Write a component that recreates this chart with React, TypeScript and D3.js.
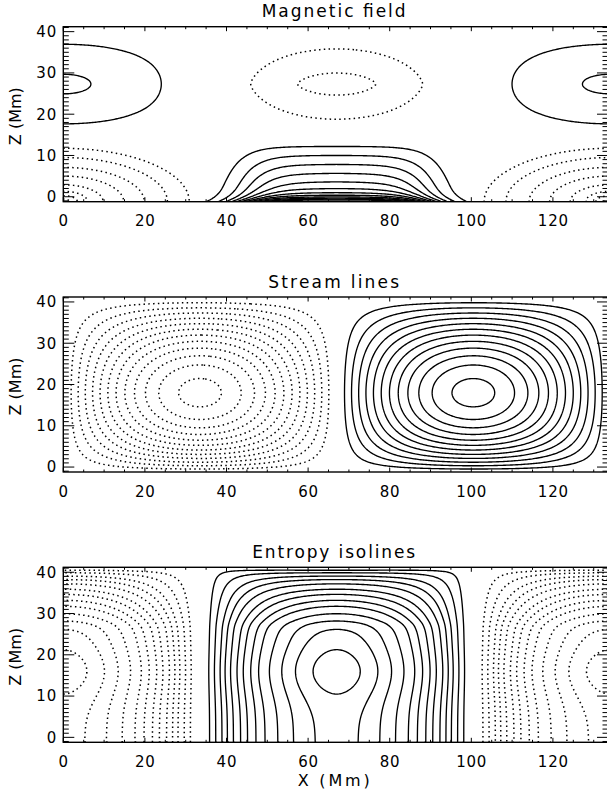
import React, { useMemo } from "react";
import * as d3 from "d3";

// ---------- layout constants ----------
const W = 607;
const H = 795;
const X0 = 63.3;
const X1 = 608;
const PANEL_TOPS = [26.7, 297.0, 567.3];
const PANEL_H = 175;

// ---------- axis data ----------
const X_MIN = 0;
const X_MAX = 133.5;
const Z_MIN = -1.2;
const Z_MAX = 41.2;
const PERIOD = 134;
const xTicksMajor = [0, 20, 40, 60, 80, 100, 120];
const zTicksMajor = [0, 10, 20, 30, 40];
const panelTitles = ["Magnetic field", "Stream lines", "Entropy isolines"];
const titleWidths = [144, 131, 163];
const xAxisTitle = "X (Mm)";
const zAxisTitle = "Z (Mm)";

// ---------- contour levels ----------
const magUpperSolid = [0.43, 0.95];
const magUpperDotted = [-0.55, -0.9];
const magDomeLevels = [1, 2, 3, 4, 5, 6, 7, 8, 9, 10, 11, 12];
const magCornerLevels = [0.02, 0.19, 0.37, 0.53, 0.69, 0.81, 0.89, 0.95];
const streamLevels = [0.09, 0.17, 0.25, 0.33, 0.41, 0.49, 0.57, 0.65, 0.73, 0.81, 0.89, 0.97];
const entropyLevels = [0.11, 0.18, 0.25, 0.31, 0.375, 0.45, 0.52, 0.6, 0.68, 0.78, 0.88, 0.97, 1.05];

// ---------- model fields ----------
type Field = (x: number, z: number) => number;

const magUpper: Field = (x, z) => {
  const c = Math.cos((2 * Math.PI * x) / PERIOD);
  const dz = Math.abs(z - 27.3);
  const g = c >= 0 ? Math.exp(-((dz / 10.5) ** 2)) : Math.exp(-Math.pow(dz / 12, 1.5));
  return c * g;
};

const magDome: Field = (x, z) => {
  const d = Math.abs(x - PERIOD / 2);
  const w = z - Z_MIN;
  const s = 1 / (1 + Math.exp((d - 22) / 3.8));
  const q = 7.16 - 0.46 * w + 7.6 * Math.exp(-w);
  return s * q;
};

const magCorner: Field = (x, z) => {
  const e = Math.min(x, PERIOD - x);
  const w = z - Z_MIN;
  return 1 - Math.hypot(e / 31.5, w / 13.2);
};

const streamFn: Field = (x, z) => {
  const g = Math.pow(Math.max(0, (z - Z_MIN) / (Z_MAX - Z_MIN)), 0.8735);
  return -Math.sin((2 * Math.PI * x) / PERIOD) * Math.sin(Math.PI * g);
};

const entropyFn: Field = (x, z) => {
  const th = (2 * Math.PI * (x - PERIOD / 2)) / PERIOD;
  const c = Math.cos(th);
  const G = Math.exp(-(((z - 16) / 7.2) ** 2));
  const a = Math.abs(c) * (1 + 0.09 * G);
  const t = Math.max(0, Z_MAX - z);
  const zr = 0.055 * t + 0.16 * (1 - Math.exp(-t / 1.2));
  const Z = zr < 0.9 ? zr : 1 - 0.1 * Math.exp(-(zr - 0.9) / 0.1);
  const m = c >= 0 ? 0.5 : 0.25;
  const v = a * Math.pow(Z, Math.pow(Math.min(a, 1), m));
  return c >= 0 ? v : -v;
};

// ---------- contour helpers ----------
const NX = 400;
const NZ = 140;

function sampleField(f: Field): number[] {
  const vals = new Array(NX * NZ);
  const dx = (X_MAX - X_MIN) / NX;
  const dz = (Z_MAX - Z_MIN) / NZ;
  for (let j = 0; j < NZ; j++) {
    const z = Z_MIN + (j + 0.5) * dz;
    for (let i = 0; i < NX; i++) {
      const x = X_MIN + (i + 0.5) * dx;
      vals[j * NX + i] = f(x, z);
    }
  }
  return vals;
}

function ringToPolylines(ring: number[][]): number[][][] {
  const eps = 1e-6;
  const side = (p: number[]) =>
    (p[0] <= eps ? 1 : 0) |
    (p[0] >= NX - eps ? 2 : 0) |
    (p[1] <= eps ? 4 : 0) |
    (p[1] >= NZ - eps ? 8 : 0);
  const n = ring.length - 1;
  const isB = (k: number) => (side(ring[k]) & side(ring[k + 1])) !== 0;
  let start = -1;
  for (let k = 0; k < n; k++) {
    if (isB(k)) {
      start = k;
      break;
    }
  }
  if (start < 0) return [ring];
  const out: number[][][] = [];
  let cur: number[][] = [];
  for (let s = 1; s <= n; s++) {
    const k = (start + s) % n;
    if (isB(k)) {
      if (cur.length > 1) out.push(cur);
      cur = [];
    } else {
      if (cur.length === 0) cur.push(ring[k]);
      cur.push(ring[k + 1]);
    }
  }
  if (cur.length > 1) out.push(cur);
  return out;
}

type LineSet = { d: string; dotted: boolean }[];

function contourPaths(
  f: Field,
  levels: number[],
  dotted: boolean,
  xs: d3.ScaleLinear<number, number>,
  ys: d3.ScaleLinear<number, number>
): LineSet {
  const vals = sampleField(f);
  const gen = d3.contours().size([NX, NZ]).smooth(true).thresholds(levels);
  const polys = gen(vals);
  const gxToX = (gx: number) => X_MIN + (gx * (X_MAX - X_MIN)) / NX;
  const gyToZ = (gy: number) => Z_MIN + (gy * (Z_MAX - Z_MIN)) / NZ;
  const line = d3
    .line<number[]>()
    .x((p) => xs(gxToX(p[0])))
    .y((p) => ys(gyToZ(p[1])));
  const out: LineSet = [];
  for (const mp of polys) {
    if (!levels.includes(mp.value)) continue;
    for (const poly of mp.coordinates as number[][][][]) {
      for (const ring of poly) {
        for (const pl of ringToPolylines(ring)) {
          const d = line(pl);
          if (d) out.push({ d, dotted });
        }
      }
    }
  }
  return out;
}

// ---------- panel ----------
const FONT = "DejaVu Sans, Verdana, sans-serif";

function Panel({ index }: { index: number }) {
  const top = PANEL_TOPS[index];
  const bottom = top + PANEL_H;
  const xs = d3.scaleLinear().domain([X_MIN, X_MAX]).range([X0, X1]);
  const ys = d3.scaleLinear().domain([Z_MIN, Z_MAX]).range([bottom, top]);

  const lines = useMemo(() => {
    if (index === 0) {
      return [
        ...contourPaths(magUpper, magUpperSolid, false, xs, ys),
        ...contourPaths(magUpper, magUpperDotted, true, xs, ys),
        ...contourPaths(magDome, magDomeLevels, false, xs, ys),
        ...contourPaths(magCorner, magCornerLevels, true, xs, ys),
      ];
    }
    if (index === 1) {
      return [
        ...contourPaths(streamFn, streamLevels, false, xs, ys),
        ...contourPaths(streamFn, streamLevels.map((v) => -v), true, xs, ys),
      ];
    }
    return [
      ...contourPaths(entropyFn, entropyLevels, false, xs, ys),
      ...contourPaths(entropyFn, entropyLevels.map((v) => -v), true, xs, ys),
    ];
  }, [index]);

  const xMinor: number[] = d3.range(0, X_MAX + 0.001, 5).filter((v) => v % 20 !== 0);
  const zMinor: number[] = d3.range(-1, Z_MAX, 1).filter((v) => v % 10 !== 0);
  const clipId = `clip${index}`;

  return (
    <g>
      <defs>
        <clipPath id={clipId}>
          <rect x={X0} y={top} width={X1 - X0} height={PANEL_H} />
        </clipPath>
      </defs>
      <text
        x={(X0 + X1) / 2 - 2}
        y={top - 9.5}
        textAnchor="middle"
        fontFamily={FONT}
        fontSize={17}
        textLength={titleWidths[index]}
        lengthAdjust="spacing"
      >
        {panelTitles[index]}
      </text>
      <g clipPath={`url(#${clipId})`} fill="none" stroke="#000">
        {lines.map((l, i) => (
          <path
            key={i}
            d={l.d}
            strokeWidth={l.dotted ? 1.5 : 1.35}
            strokeDasharray={l.dotted ? "1.5 3.3" : undefined}
          />
        ))}
      </g>
      {/* frame */}
      <rect x={X0} y={top} width={X1 - X0} height={PANEL_H} fill="none" stroke="#000" strokeWidth={1.4} />
      {/* ticks */}
      <g stroke="#000" strokeWidth={1}>
        {xTicksMajor.map((v) => (
          <g key={`xm${v}`}>
            <line x1={xs(v)} x2={xs(v)} y1={bottom} y2={bottom - 4.5} />
            <line x1={xs(v)} x2={xs(v)} y1={top} y2={top + 4.5} />
          </g>
        ))}
        {xMinor.map((v) => (
          <g key={`xn${v}`}>
            <line x1={xs(v)} x2={xs(v)} y1={bottom} y2={bottom - 2.5} />
            <line x1={xs(v)} x2={xs(v)} y1={top} y2={top + 2.5} />
          </g>
        ))}
        {zTicksMajor.map((v) => (
          <g key={`zm${v}`}>
            <line x1={X0} x2={X0 + 11} y1={ys(v)} y2={ys(v)} />
            <line x1={X1} x2={X1 - 11} y1={ys(v)} y2={ys(v)} />
          </g>
        ))}
        {zMinor.map((v) => (
          <g key={`zn${v}`}>
            <line x1={X0} x2={X0 + 5.5} y1={ys(v)} y2={ys(v)} />
            <line x1={X1} x2={X1 - 5.5} y1={ys(v)} y2={ys(v)} />
          </g>
        ))}
      </g>
      {/* tick labels */}
      <g fontFamily={FONT} fontSize={15} letterSpacing={0.8} fill="#000">
        {xTicksMajor.map((v) => (
          <text key={`xl${v}`} x={xs(v) + 0.4} y={bottom + 24.5} textAnchor="middle">
            {v}
          </text>
        ))}
        {zTicksMajor.map((v) => (
          <text key={`zl${v}`} x={57} y={ys(v) + 5.3} textAnchor="end">
            {v}
          </text>
        ))}
      </g>
      <text
        transform={`translate(${21},${(top + bottom) / 2 + 2}) rotate(-90)`}
        textAnchor="middle"
        fontFamily={FONT}
        fontSize={16}
        textLength={58}
        lengthAdjust="spacing"
      >
        {zAxisTitle}
      </text>
    </g>
  );
}

export default function App() {
  return (
    <svg
      width={W}
      height={H}
      viewBox={`0 0 ${W} ${H}`}
      style={{ position: "absolute", left: 0, top: 0, background: "#fff" }}
    >
      <rect x={0} y={0} width={W} height={H} fill="#fff" />
      {[0, 1, 2].map((i) => (
        <Panel key={i} index={i} />
      ))}
      <text
        x={(X0 + X1) / 2 - 2}
        y={786}
        textAnchor="middle"
        fontFamily={FONT}
        fontSize={16}
        textLength={72}
        lengthAdjust="spacing"
      >
        {xAxisTitle}
      </text>
    </svg>
  );
}
